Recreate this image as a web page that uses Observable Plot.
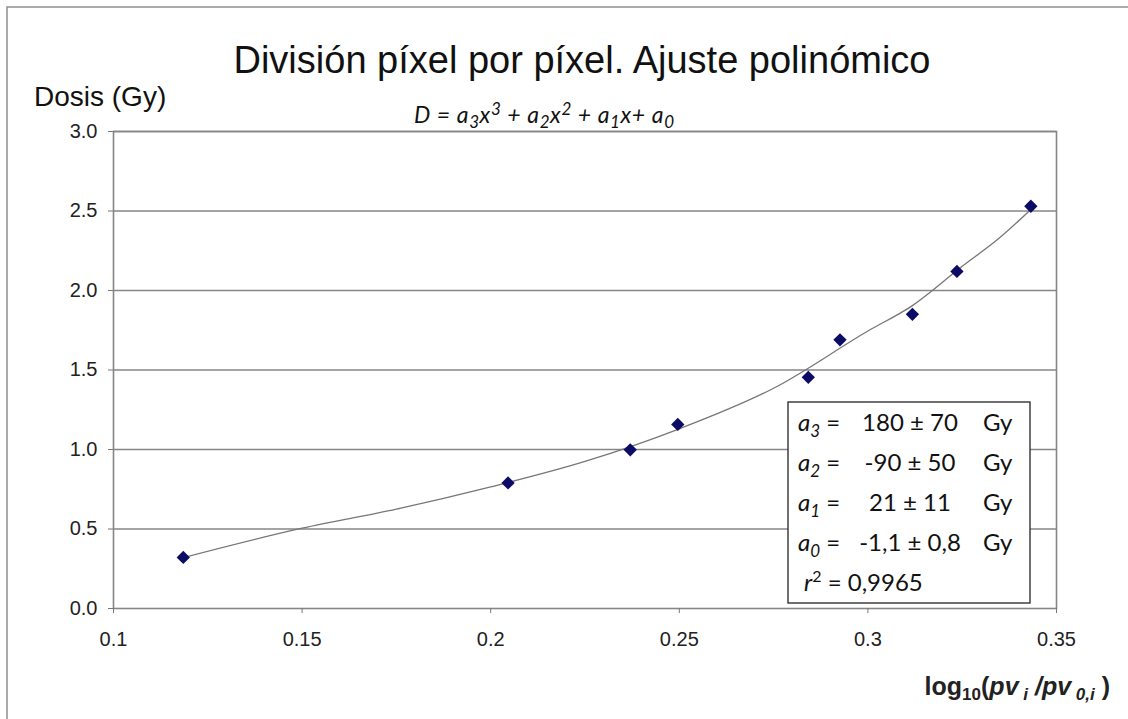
<!DOCTYPE html>
<html>
<head>
<meta charset="utf-8">
<script src="https://cdn.jsdelivr.net/npm/d3@7"></script>
<script src="https://cdn.jsdelivr.net/npm/@observablehq/plot@0.6"></script>
<style>
  html, body { margin: 0; padding: 0; background: #fff; }
  #chart { position: relative; width: 1128px; height: 719px; overflow: hidden; }
</style>
</head>
<body>
<div id="chart"></div>
<script>
// ---- data ----
const pointX = [0.1185, 0.2046, 0.2370, 0.2496, 0.2842, 0.2926, 0.3118, 0.3236, 0.3432];
const pointY = [0.321, 0.790, 0.998, 1.158, 1.454, 1.690, 1.850, 2.120, 2.530];

// polynomial trend line
const fitX = [0.1185, 0.15, 0.175, 0.2, 0.225, 0.25, 0.275, 0.3, 0.3118, 0.325, 0.335, 0.3432];
const fitY = [0.320, 0.505, 0.625, 0.765, 0.925, 1.130, 1.385, 1.745, 1.905, 2.152, 2.333, 2.510];

const xTicks = [0.1, 0.15, 0.2, 0.25, 0.3, 0.35];
const xTickLabels = ["0.1", "0.15", "0.2", "0.25", "0.3", "0.35"];
const yTicks = [0, 0.5, 1, 1.5, 2, 2.5, 3];

const titleText = "División píxel por píxel. Ajuste polinómico";
const yLabelText = "Dosis (Gy)";
const coefNames = ["3", "2", "1", "0"];
const coefValues = ["180 ± 70", "-90 ± 50", "21 ± 11", "-1,1 ± 0,8"];
const coefUnit = "Gy";
const r2Value = "0,9965";

const points = pointX.map((x, i) => ({x, y: pointY[i]}));
const fit = fitX.map((x, i) => ({x, y: fitY[i]}));

const W = 1128, H = 719;
const gridColor = "#868686";

const plot = Plot.plot({
  width: W,
  height: H,
  marginLeft: 113,
  marginRight: 72,
  marginTop: 131,
  marginBottom: 111,
  style: {fontFamily: "'Liberation Sans', Arial, sans-serif", background: "transparent", overflow: "visible"},
  x: {domain: [0.1, 0.35]},
  y: {domain: [0, 3]},
  marks: [
    Plot.ruleY(yTicks.filter(d => d > 0), {stroke: gridColor, strokeWidth: 1.6}),
    Plot.frame({stroke: gridColor, strokeWidth: 1.6}),
    Plot.axisX({
      ticks: xTicks, tickFormat: (d, i) => xTickLabels[i], tickSize: 5, tickPadding: 18,
      fontSize: 20, stroke: "#777", fill: "#222", label: null
    }),
    Plot.axisY({
      ticks: yTicks, tickFormat: d3.format(".1f"), tickSize: 5, tickPadding: 11,
      fontSize: 20, stroke: "#777", fill: "#222", label: null
    }),
    Plot.line(fit, {x: "x", y: "y", stroke: "#777", strokeWidth: 1.3, curve: "monotone-x"}),
    Plot.dot(points, {x: "x", y: "y", symbol: "diamond2", r: 6, fill: "#0c0c66", stroke: "none"})
  ]
});

document.getElementById("chart").appendChild(plot);
const svg = d3.select(plot);

// outer chart border (right and bottom edges lie outside the picture)
svg.insert("rect", ":first-child")
  .attr("x", 7).attr("y", 7).attr("width", W + 20).attr("height", H + 20)
  .attr("fill", "white").attr("stroke", "#8f8f8f").attr("stroke-width", 1.5);

const ann = svg.append("g").attr("text-anchor", "start").attr("fill", "#111");

// title
ann.append("text")
  .attr("x", 582).attr("y", 73)
  .attr("text-anchor", "middle")
  .attr("font-size", 38)
  .text(titleText);

// y axis label
ann.append("text")
  .attr("x", 34).attr("y", 106)
  .attr("font-size", 28)
  .text(yLabelText);

// formula subtitle
const f = ann.append("text")
  .attr("x", 414).attr("y", 123)
  .attr("font-family", "Lato, 'Noto Sans', sans-serif")
  .attr("font-style", "italic")
  .attr("letter-spacing", 0.6)
  .attr("font-size", 23);
const formulaParts = [
  ["D = a", 0, 23], ["3", 5, 17], ["x", -5, 23], ["3", -8, 17], [" + a", 8, 23], ["2", 5, 17],
  ["x", -5, 23], ["2", -8, 17], [" + a", 8, 23], ["1", 5, 17], ["x+ a", -5, 23], ["0", 5, 17]
];
formulaParts.forEach(([t, dy, fs]) => f.append("tspan").attr("dy", dy).attr("font-size", fs).text(t));

// coefficient box
const box = ann.append("g").attr("font-family", "Lato, 'Noto Sans', sans-serif").attr("font-size", 24);
box.append("rect").attr("x", 788).attr("y", 402).attr("width", 242).attr("height", 201)
  .attr("fill", "white").attr("stroke", "#333").attr("stroke-width", 1.4);
const rowBase = [431, 471, 511, 551];
coefNames.forEach((n, i) => {
  const t = box.append("text").attr("x", 798).attr("y", rowBase[i]).attr("font-size", 24);
  t.append("tspan").attr("font-style", "italic").text("a");
  t.append("tspan").attr("font-style", "italic").attr("font-size", 17).attr("dy", 6).text(n);
  t.append("tspan").attr("dy", -6).attr("font-size", 24).text(" =");
  box.append("text").attr("x", 910).attr("y", rowBase[i]).attr("text-anchor", "middle").attr("font-size", 24).text(coefValues[i]);
  box.append("text").attr("x", 983).attr("y", rowBase[i]).attr("font-size", 24).text(coefUnit);
});
const r2 = box.append("text").attr("x", 804).attr("y", 591).attr("font-size", 24);
r2.append("tspan").attr("font-style", "italic").text("r");
r2.append("tspan").attr("font-size", 16).attr("dy", -9).text("2");
r2.append("tspan").attr("dy", 9).attr("font-size", 24).text(" = " + r2Value);

// x axis title
const xt = ann.append("text")
  .attr("x", 1110).attr("y", 695)
  .attr("text-anchor", "end")
  .attr("font-size", 25)
  .attr("font-weight", "bold")
  .attr("fill", "#222");
const xParts = [
  ["log", 0, 25, "normal"], ["10", 5, 17, "normal"], ["(", -5, 25, "normal"],
  ["pv", 0, 25, "italic"], [" i", 5, 17, "italic"], [" /", -5, 25, "italic"],
  ["pv", 0, 25, "italic"], [" 0,i", 5, 17, "italic"], [" )", -5, 25, "normal"]
];
xParts.forEach(([t, dy, fs, st]) => xt.append("tspan").attr("dy", dy).attr("font-size", fs).attr("font-style", st).text(t));
</script>
</body>
</html>
